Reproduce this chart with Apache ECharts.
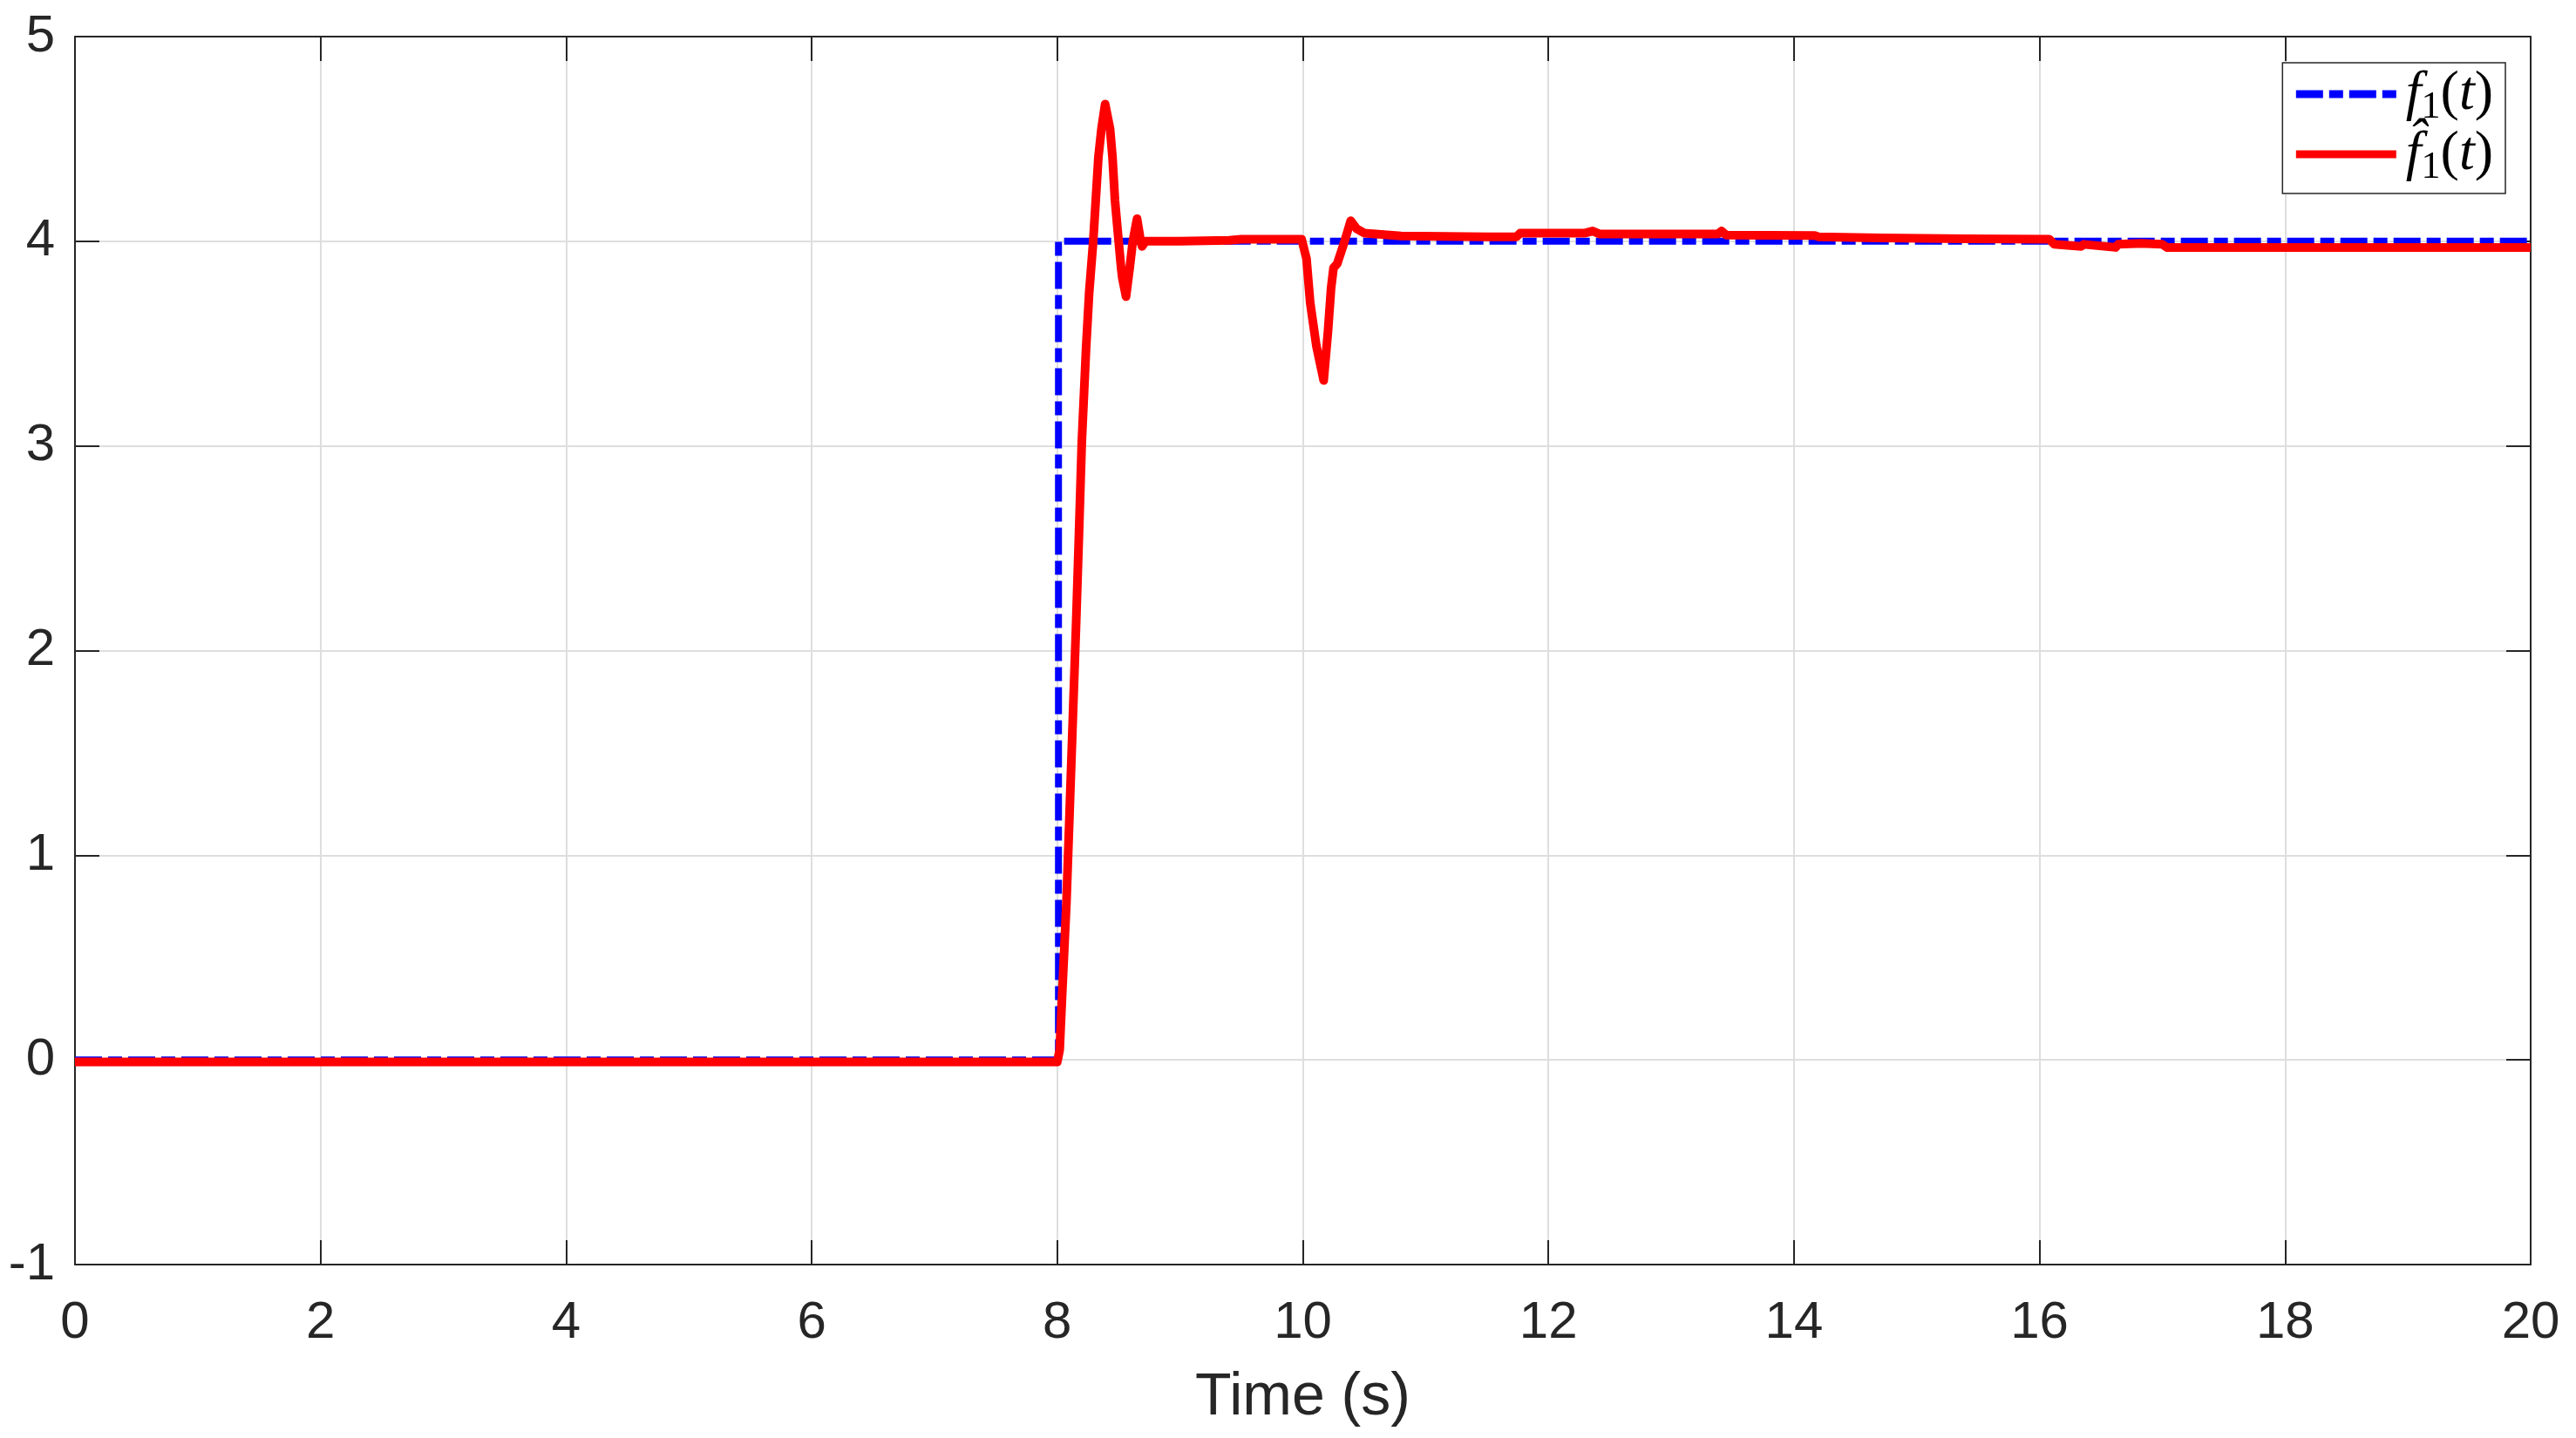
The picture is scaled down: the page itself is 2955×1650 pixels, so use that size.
<!DOCTYPE html>
<html>
<head>
<meta charset="utf-8">
<script src="https://cdn.jsdelivr.net/npm/echarts@6/dist/echarts.min.js"></script>
<style>
    html, body { margin: 0; padding: 0; background: #fff; }
    #chart { width: 2955px; height: 1650px; }
</style>
</head>
<body>
<div id="chart"></div>
<script>
// reference signal f1(t): a step at t = 8 s
const tRef = [0, 8.01, 8.01, 20];
const fRef = [0, 0, 4, 4];

// estimate \hat f1(t)
const tEst = [0, 8.0, 8.02, 8.04, 8.075, 8.10, 8.127, 8.153, 8.177, 8.20, 8.235, 8.26, 8.293,
    8.335, 8.36, 8.39, 8.43, 8.45, 8.47, 8.50, 8.52, 8.53, 8.56, 8.59, 8.615, 8.65, 8.68, 8.69,
    8.72, 9.0, 9.4, 9.5, 9.99, 10.03, 10.06, 10.11, 10.17, 10.205, 10.23, 10.25, 10.28, 10.335,
    10.39, 10.44, 10.50, 10.8, 11.5, 11.74, 11.77, 12.3, 12.36, 12.42, 13.38, 13.41, 13.45,
    14.17, 14.2, 14.7, 15.4, 16.08, 16.12, 16.34, 16.36, 16.62, 16.64, 16.83, 17.0, 17.04, 20];
const fEst = [-0.01, -0.01, 0.05, 0.32, 0.77, 1.2, 1.67, 2.12, 2.57, 3.02, 3.48, 3.75, 4.0,
    4.41, 4.55, 4.67, 4.55, 4.41, 4.2, 4.0, 3.87, 3.82, 3.73, 3.87, 4.0, 4.11, 4.0, 3.975,
    4.0, 4.0, 4.005, 4.01, 4.01, 3.915, 3.70, 3.49, 3.32, 3.56, 3.77, 3.87, 3.89, 3.99,
    4.10, 4.06, 4.04, 4.026, 4.022, 4.022, 4.04, 4.04, 4.05, 4.035, 4.035, 4.05, 4.03,
    4.028, 4.022, 4.016, 4.012, 4.01, 3.985, 3.975, 3.985, 3.97, 3.985, 3.99, 3.985, 3.969, 3.969];

const xTicks = [0, 2, 4, 6, 8, 10, 12, 14, 16, 18, 20];
const yTicks = [-1, 0, 1, 2, 3, 4, 5];

const pairs = (xs, ys) => xs.map((x, i) => [x, ys[i]]);

const axisColor = '#262626';
const labelFont = 'Liberation Sans, Arial, sans-serif';
const mathFont = 'Liberation Serif, DejaVu Serif, serif';

const chart = echarts.init(document.getElementById('chart'));

const legendRich = {
    g: { fontSize: 60, width: 6 },
    i: { fontFamily: mathFont, fontStyle: 'italic', fontSize: 64, lineHeight: 66, color: '#000' },
    n: { fontFamily: mathFont, fontSize: 64, lineHeight: 66, color: '#000' },
    s: { fontFamily: mathFont, fontSize: 44, lineHeight: 74, verticalAlign: 'bottom', color: '#000' }
};

chart.setOption({
    backgroundColor: '#fff',
    animation: false,
    grid: {
        left: 86,
        top: 42,
        right: 52,
        bottom: 199
    },
    legend: {
        orient: 'vertical',
        right: 81,
        top: 72,
        padding: [4, 14, 8, 11],
        itemGap: 0,
        itemWidth: 115,
        itemHeight: 14,
        backgroundColor: '#fff',
        borderColor: axisColor,
        borderWidth: 1.5,
        borderRadius: 0,
        itemStyle: { opacity: 0 },
        textStyle: { rich: legendRich },
        formatter: name => name === 'f1'
            ? '{g| }{i|f}{s|1}{n|(}{i|t}{n|)}'
            : '{g| }{i|f\u0302}{s|1}{n|(}{i|t}{n|)}',
        data: [
            { name: 'f1', lineStyle: { width: 9, type: [31, 7, 16, 7] } },
            { name: 'fhat1', lineStyle: { width: 9 } }
        ]
    },
    xAxis: [
        {
            type: 'value',
            min: 0,
            max: 20,
            interval: 2,
            name: 'Time (s)',
            nameLocation: 'middle',
            nameGap: 119,
            nameTextStyle: { fontFamily: labelFont, fontSize: 68, color: axisColor },
            axisLine: { onZero: false, lineStyle: { color: axisColor, width: 2 } },
            axisTick: { inside: true, length: 28, lineStyle: { color: axisColor, width: 2 } },
            axisLabel: {
                margin: 37,
                fontFamily: labelFont,
                fontSize: 60,
                color: axisColor,
                formatter: v => xTicks.includes(v) ? String(v) : ''
            },
            splitLine: { show: true, lineStyle: { color: '#dedede', width: 2 } }
        },
        {
            type: 'value',
            position: 'top',
            min: 0,
            max: 20,
            interval: 2,
            axisLine: { onZero: false, lineStyle: { color: axisColor, width: 2 } },
            axisTick: { inside: true, length: 28, lineStyle: { color: axisColor, width: 2 } },
            axisLabel: { show: false },
            splitLine: { show: false }
        }
    ],
    yAxis: [
        {
            type: 'value',
            min: -1,
            max: 5,
            interval: 1,
            axisLine: { show: true, onZero: false, lineStyle: { color: axisColor, width: 2 } },
            axisTick: { show: true, inside: true, length: 28, lineStyle: { color: axisColor, width: 2 } },
            axisLabel: {
                margin: 23,
                fontFamily: labelFont,
                fontSize: 60,
                color: axisColor,
                formatter: v => yTicks.includes(v) ? String(v) : ''
            },
            splitLine: { show: true, lineStyle: { color: '#dedede', width: 2 } }
        },
        {
            type: 'value',
            position: 'right',
            min: -1,
            max: 5,
            interval: 1,
            axisLine: { show: true, onZero: false, lineStyle: { color: axisColor, width: 2 } },
            axisTick: { show: true, inside: true, length: 28, lineStyle: { color: axisColor, width: 2 } },
            axisLabel: { show: false },
            splitLine: { show: false }
        }
    ],
    series: [
        {
            name: 'f1',
            type: 'line',
            xAxisIndex: 0,
            yAxisIndex: 0,
            data: pairs(tRef, fRef),
            symbol: 'none',
            lineStyle: { color: '#0000ff', width: 8, type: [31, 7, 16, 7] },
            itemStyle: { color: '#0000ff' },
            z: 2
        },
        {
            name: 'fhat1',
            type: 'line',
            xAxisIndex: 0,
            yAxisIndex: 0,
            data: pairs(tEst, fEst),
            symbol: 'none',
            lineStyle: { color: '#ff0000', width: 10, join: 'round' },
            itemStyle: { color: '#ff0000' },
            z: 3
        }
    ]
});
</script>
</body>
</html>
